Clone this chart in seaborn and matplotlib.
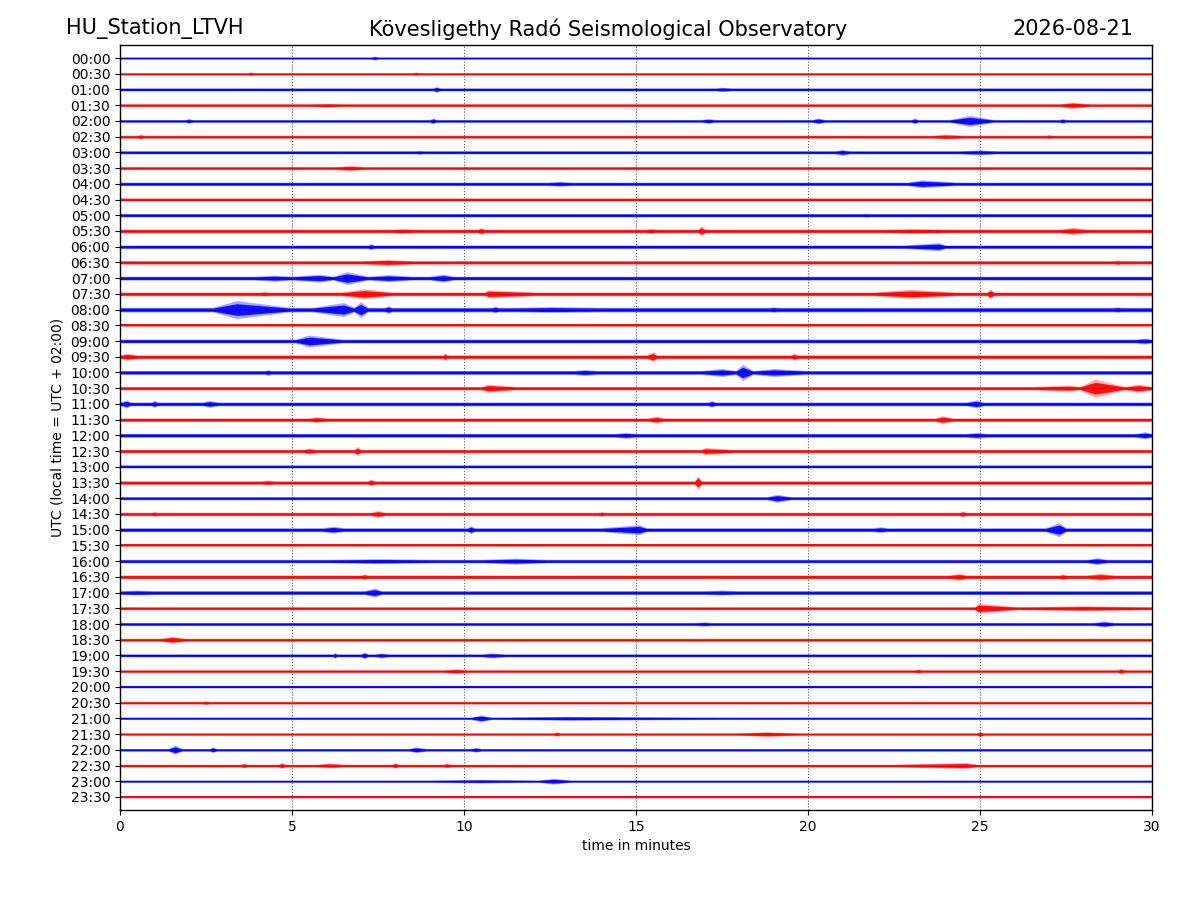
"""Helicorder-style day plot of station LTVH, rebuilt from the picture.

Each 30-minute trace is drawn as an amplitude envelope around its baseline.
Envelope values (half-width, in pixels of the original picture) were read off
the reference by eye: a background level per trace plus the visible bursts.
"""

import matplotlib
matplotlib.use("Agg")
import matplotlib.pyplot as plt
import pandas as pd
import seaborn as sns

sns.set_style("ticks", rc={
    "axes.edgecolor": "black",
    "xtick.color": "black",
    "ytick.color": "black",
    "text.color": "black",
    "axes.labelcolor": "black",
})
plt.rcParams["font.family"] = ["DejaVu Sans"]

STATION = "HU_Station_LTVH"
TITLE = "Kövesligethy Radó Seismological Observatory"
DATE = "2026-08-21"

ROW_LABELS = [f"{h:02d}:{m:02d}" for h in range(24) for m in (0, 30)]
TRACE_COLORS = ["#0000ff", "#ff0000"]
MINUTES_START, MINUTES_END = 0, 30
X_TICKS = [0, 5, 10, 15, 20, 25, 30]

# background half-amplitude of every trace (pixels of the reference)
BASE_AMP = [
    1.0, 1.2, 1.5, 1.5, 1.4, 1.5, 1.6, 1.6, 1.8, 1.6,
    1.8, 2.0, 1.8, 1.8, 2.0, 2.0, 2.4, 1.8, 2.0, 2.0,
    2.0, 1.8, 2.0, 1.8, 2.0, 1.8, 1.4, 1.8, 1.6, 1.8,
    2.0, 1.6, 1.8, 2.0, 2.0, 1.6, 1.6, 1.6, 1.5, 1.4,
    1.1, 1.3, 1.1, 1.2, 1.3, 1.4, 1.1, 1.1,
]

# bursts per trace: (start minute, peak minute, end minute, peak half-amplitude)
BURSTS = [
    [(7.3, 7.4, 7.5, 2.0)],                                            # 00:00
    [(3.7, 3.8, 3.9, 2.0), (8.5, 8.6, 8.7, 1.8)],                      # 00:30
    [(9.1, 9.2, 9.3, 3.0), (17.3, 17.5, 17.8, 2.2)],                   # 01:00
    [(5.5, 6.0, 6.5, 2.0), (27.3, 27.7, 28.2, 3.2)],                   # 01:30
    [(1.9, 2.0, 2.1, 2.5), (9.0, 9.1, 9.2, 3.0), (16.9, 17.1, 17.3, 2.5),
     (20.1, 20.3, 20.5, 3.0), (23.0, 23.1, 23.2, 3.0),
     (24.1, 24.7, 25.4, 5.5), (27.3, 27.4, 27.5, 2.5)],                # 02:00
    [(0.5, 0.6, 0.7, 2.5), (23.6, 24.0, 24.6, 2.5), (26.9, 27.0, 27.1, 2.2)],  # 02:30
    [(8.6, 8.7, 8.8, 2.0), (20.8, 21.0, 21.2, 3.0), (24.4, 25.0, 25.5, 2.5)],  # 03:00
    [(6.25, 6.7, 7.1, 2.6)],                                           # 03:30
    [(12.45, 12.8, 13.1, 2.5), (22.9, 23.3, 24.3, 4.0)],               # 04:00
    [],                                                                # 04:30
    [(8.2, 8.3, 8.4, 1.8), (21.6, 21.7, 21.8, 2.0)],                   # 05:00
    [(7.9, 8.2, 8.6, 2.5), (10.4, 10.5, 10.6, 3.5), (15.3, 15.4, 15.6, 2.6),
     (16.8, 16.9, 17.0, 5.0), (22.2, 23.0, 24.2, 2.5), (27.3, 27.7, 28.1, 3.5)],  # 05:30
    [(7.2, 7.3, 7.4, 3.0), (22.8, 23.8, 24.0, 4.0)],                   # 06:00
    [(7.0, 7.8, 8.5, 3.0), (28.9, 29.0, 29.1, 2.5)],                   # 06:30
    [(3.9, 4.5, 5.0, 3.0), (5.0, 5.8, 6.2, 4.0), (6.2, 6.6, 7.2, 6.5),
     (7.2, 7.8, 8.5, 3.5), (9.0, 9.4, 9.7, 4.0)],                      # 07:00
    [(4.1, 4.2, 4.3, 2.5), (6.45, 7.1, 7.9, 5.0), (10.6, 10.7, 12.1, 4.0),
     (21.9, 23.0, 24.3, 4.5), (25.2, 25.3, 25.4, 5.0)],                # 07:30
    [(2.7, 3.4, 4.9, 9.0), (5.6, 6.5, 6.8, 7.0), (6.8, 7.0, 7.2, 8.0),
     (7.7, 7.8, 7.9, 4.0), (10.8, 10.9, 11.0, 3.5), (11.5, 12.5, 14.0, 3.0),
     (18.9, 19.0, 19.1, 3.0), (28.9, 29.0, 29.1, 3.0)],                # 08:00
    [],                                                                # 08:30
    [(5.1, 5.5, 6.45, 6.0), (29.5, 29.8, 30.0, 3.0)],                  # 09:00
    [(0.0, 0.2, 0.5, 3.5), (9.4, 9.45, 9.5, 4.0), (15.3, 15.5, 15.6, 5.0),
     (19.5, 19.6, 19.7, 3.5)],                                         # 09:30
    [(4.2, 4.3, 4.4, 3.0), (13.2, 13.5, 13.9, 3.0), (16.9, 17.5, 17.9, 4.0),
     (17.9, 18.1, 18.4, 8.0), (18.4, 19.0, 20.0, 4.0)],                # 10:00
    [(10.5, 10.7, 11.5, 4.0), (26.5, 27.6, 27.9, 3.0), (27.9, 28.35, 29.2, 9.0),
     (29.2, 29.6, 30.0, 4.0)],                                         # 10:30
    [(0.0, 0.2, 0.3, 4.0), (0.9, 1.0, 1.1, 3.5), (2.4, 2.6, 2.85, 3.5),
     (17.1, 17.2, 17.3, 3.5), (24.6, 24.9, 25.1, 4.0)],                # 11:00
    [(5.5, 5.7, 6.0, 3.0), (15.35, 15.6, 15.8, 3.5), (23.7, 23.9, 24.2, 4.0)],  # 11:30
    [(14.4, 14.7, 15.0, 3.0), (24.6, 24.9, 25.2, 3.0), (29.5, 29.8, 30.0, 3.5)],  # 12:00
    [(5.3, 5.5, 5.7, 3.0), (6.8, 6.9, 7.0, 4.5), (16.9, 17.0, 17.9, 3.5)],  # 12:30
    [],                                                                # 13:00
    [(4.1, 4.3, 4.5, 2.5), (7.2, 7.3, 7.4, 3.5), (16.7, 16.8, 16.9, 7.0)],  # 13:30
    [(18.8, 19.1, 19.5, 4.0)],                                         # 14:00
    [(0.9, 1.0, 1.1, 2.5), (7.3, 7.5, 7.7, 3.5), (13.9, 14.0, 14.1, 2.5),
     (24.4, 24.5, 24.6, 3.0)],                                         # 14:30
    [(5.9, 6.2, 6.5, 3.5), (10.1, 10.2, 10.3, 4.0), (14.0, 15.1, 15.3, 5.0),
     (21.9, 22.1, 22.3, 3.0), (26.9, 27.3, 27.5, 7.0)],                # 15:00
    [],                                                                # 15:30
    [(6.0, 7.5, 9.2, 2.5), (10.5, 11.5, 12.4, 3.0), (28.1, 28.4, 28.7, 3.5)],  # 16:00
    [(7.0, 7.1, 7.2, 3.0), (24.1, 24.4, 24.6, 3.5), (27.3, 27.4, 27.5, 3.0),
     (28.1, 28.5, 28.9, 3.5)],                                         # 16:30
    [(0.0, 0.5, 1.0, 2.5), (7.1, 7.4, 7.6, 4.5), (17.0, 17.5, 18.0, 2.5)],  # 17:00
    [(24.85, 24.95, 26.1, 5.0), (26.1, 28.0, 30.0, 2.5)],              # 17:30
    [(16.7, 17.0, 17.2, 2.2), (28.3, 28.6, 28.9, 3.0)],                # 18:00
    [(1.2, 1.5, 1.9, 3.5)],                                            # 18:30
    [(6.2, 6.25, 6.3, 3.0), (7.0, 7.1, 7.2, 3.5), (7.4, 7.6, 7.8, 2.5),
     (10.5, 10.8, 11.2, 2.5)],                                         # 19:00
    [(9.4, 9.8, 10.1, 2.5), (23.1, 23.2, 23.3, 2.5), (29.0, 29.1, 29.2, 3.0)],  # 19:30
    [],                                                                # 20:00
    [(2.4, 2.5, 2.6, 2.0)],                                            # 20:30
    [(10.2, 10.5, 10.8, 3.5), (10.8, 13.0, 17.4, 2.0)],                # 21:00
    [(12.6, 12.7, 12.8, 2.5), (17.9, 18.8, 19.8, 2.5), (24.9, 25.0, 25.1, 3.0)],  # 21:30
    [(1.4, 1.6, 1.8, 4.5), (2.6, 2.7, 2.8, 3.0), (8.4, 8.6, 8.9, 3.0),
     (10.2, 10.35, 10.5, 2.5)],                                        # 22:00
    [(3.5, 3.6, 3.7, 2.5), (4.6, 4.7, 4.8, 3.0), (5.7, 6.1, 6.5, 2.5),
     (7.9, 8.0, 8.1, 3.0), (9.4, 9.5, 9.6, 2.5), (22.5, 24.6, 24.9, 3.0)],  # 22:30
    [(9.0, 10.5, 12.15, 1.8), (12.15, 12.6, 13.1, 3.0)],               # 23:00
    [],                                                                # 23:30
]

PX_PER_ROW = 15.72  # row spacing of the reference, turns pixel amplitudes into row units


def envelope_table() -> pd.DataFrame:
    records = []
    for row, (base, bursts) in enumerate(zip(BASE_AMP, BURSTS)):
        nodes = [(MINUTES_START, base)]
        for start, peak, end, amp in sorted(bursts):
            nodes += [(start, base), (peak, amp), (end, base)]
        nodes.append((MINUTES_END, base))
        for minute, amp in nodes:
            records.append({"row": row, "minute": minute, "amp": amp / PX_PER_ROW})
    return pd.DataFrame(records)


def main() -> None:
    env = envelope_table()
    fig = plt.figure(figsize=(12, 9), dpi=100)
    ax = fig.add_axes([0.1, 0.1, 0.86, 0.85])

    for row, grp in env.groupby("row"):
        color = TRACE_COLORS[row % 2]
        ax.fill_between(grp["minute"], row - grp["amp"], row + grp["amp"],
                        color=color, alpha=0.35, lw=0)
        ax.fill_between(grp["minute"], row - 0.65 * grp["amp"], row + 0.65 * grp["amp"],
                        color=color, alpha=0.9, lw=0)

    centre = env.assign(level=env["row"])
    sns.lineplot(data=centre, x="minute", y="level", hue="row", units="row",
                 estimator=None, palette=[TRACE_COLORS[i % 2] for i in range(len(ROW_LABELS))],
                 legend=False, lw=1.0, ax=ax)

    ax.set_xlim(MINUTES_START, MINUTES_END)
    ax.set_ylim(len(ROW_LABELS) - 1 + 0.83, -0.83)
    ax.set_xticks(X_TICKS)
    ax.set_yticks(range(len(ROW_LABELS)))
    ax.set_yticklabels(ROW_LABELS)
    ax.tick_params(labelsize=10, length=3.5, width=0.8)
    ax.xaxis.grid(True, linestyle=":", color="0.35", lw=0.8)
    ax.yaxis.grid(False)
    for side in ax.spines.values():
        side.set_linewidth(1.0)
    ax.set_xlabel("time in minutes", fontsize=10)
    ax.set_ylabel("UTC (local time = UTC + 02:00)", fontsize=10)

    fig.text(0.055, 0.968, STATION, fontsize=15, ha="left", va="center")
    fig.text(0.507, 0.968, TITLE, fontsize=15, ha="center", va="center")
    fig.text(0.945, 0.968, DATE, fontsize=15, ha="right", va="center")

    fig.savefig("out.png", dpi=100)
    plt.close(fig)


if __name__ == "__main__":
    main()
